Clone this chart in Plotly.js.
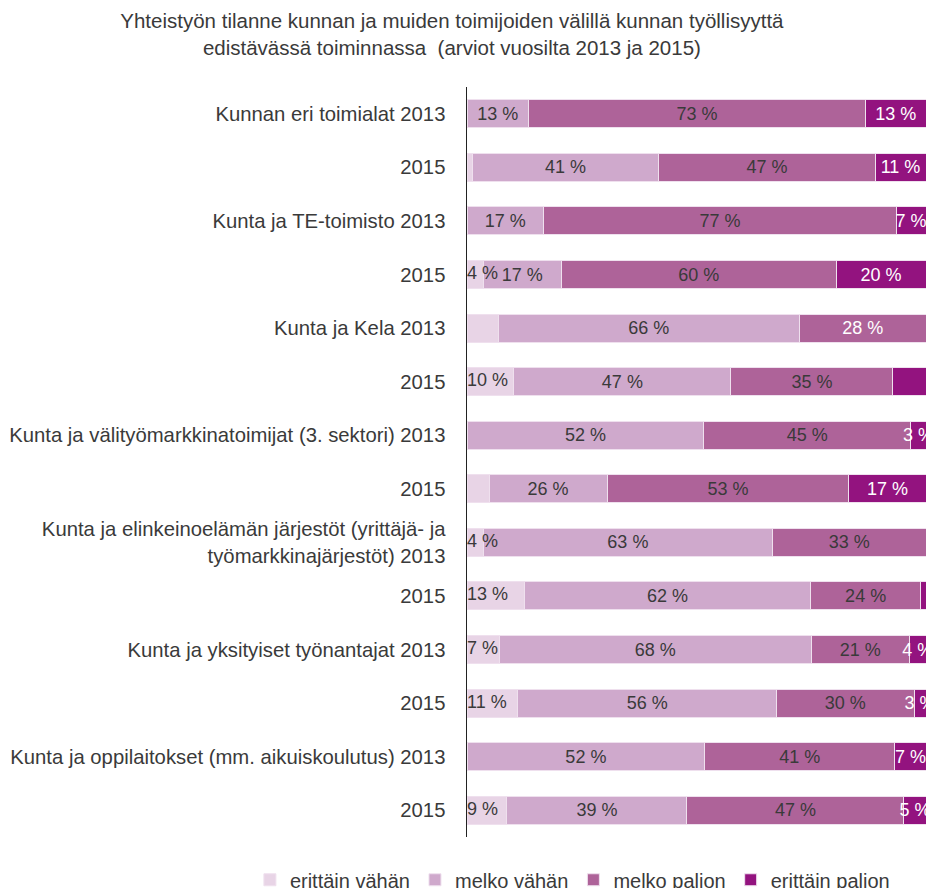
<!DOCTYPE html>
<html><head><meta charset="utf-8">
<script src="https://cdn.plot.ly/plotly-3.0.1.min.js"></script>
<style>html,body{margin:0;padding:0;background:#fff}#chart{width:926px;height:888px}</style>
</head><body><div id="chart"></div>
<script>
const rowLabels = [
  'Kunnan eri toimialat 2013', '2015',
  'Kunta ja TE-toimisto 2013', '2015',
  'Kunta ja Kela 2013', '2015',
  'Kunta ja välityömarkkinatoimijat (3. sektori) 2013', '2015',
  'Kunta ja elinkeinoelämän järjestöt (yrittäjä- ja<br>työmarkkinajärjestöt) 2013', '2015',
  'Kunta ja yksityiset työnantajat 2013', '2015',
  'Kunta ja oppilaitokset (mm. aikuiskoulutus) 2013', '2015'
];
const seriesNames = ['erittäin vähän', 'melko vähän', 'melko paljon', 'erittäin paljon'];

const erittainVahan  = [0, 1.1, 0, 3.5, 6.8, 10.2, 0, 4.8, 3.5, 12.6, 7.0, 11.1, 0, 8.7];
const melkoVahan     = [13.4, 40.7, 16.7, 17.1, 65.6, 47.3, 51.6, 25.7, 63.1, 62.2, 68.0, 56.3, 51.8, 39.2];
const melkoPaljon    = [73.4, 47.1, 76.8, 59.8, 27.6, 35.3, 45.1, 52.7, 33.4, 24.1, 21.4, 30.0, 41.4, 47.3];
const erittainPaljon = [13.2, 11.1, 6.5, 19.6, 0, 7.2, 3.3, 16.8, 0, 1.1, 3.6, 2.6, 6.8, 4.8];

const labelsEV = ['', '', '', '4 %', '', '10 %', '', '', '4 %', '13 %', '7 %', '11 %', '', '9 %'];
const labelsMV = ['13 %', '41 %', '17 %', '17 %', '66 %', '47 %', '52 %', '26 %', '63 %', '62 %', '68 %', '56 %', '52 %', '39 %'];
const labelsMP = ['73 %', '47 %', '77 %', '60 %', '28 %', '35 %', '45 %', '53 %', '33 %', '24 %', '21 %', '30 %', '41 %', '47 %'];
const labelsEP = ['13 %', '11 %', '7 %', '20 %', '', '', '3 %', '17 %', '', '', '4 %', '3 %', '7 %', '5 %'];

const colors = ['#e8d4e6', '#cfa9cc', '#ae6399', '#93137f'];
const dark = '#3a3a3a';
const light = '#ffffff';
const fontFamily = 'Liberation Sans, Arial, sans-serif';

const yPos = rowLabels.map((_, i) => i);
const values = [erittainVahan, melkoVahan, melkoPaljon, erittainPaljon];
// labels of the first series are drawn on top by a text trace (they overflow their segment)
const barLabels = [rowLabels.map(() => ''), labelsMV, labelsMP, labelsEP];
const textColors = [
  rowLabels.map(() => dark),
  rowLabels.map(() => dark),
  labelsMP.map((_, i) => (i === 4 ? light : dark)),
  rowLabels.map(() => light)
];

const traces = seriesNames.map((name, k) => ({
  type: 'bar',
  orientation: 'h',
  name: name,
  y: yPos,
  x: values[k],
  text: barLabels[k],
  textposition: 'inside',
  insidetextanchor: 'middle',
  textangle: 0,
  textfont: { size: 18, color: textColors[k], family: fontFamily },
  marker: { color: colors[k], line: { color: '#efe0ee', width: 1 } },
  hoverinfo: 'none'
}));

// first-series labels, anchored at the stack base, drawn above all bars
traces.push({
  type: 'scatter',
  mode: 'text',
  x: erittainVahan.map(() => 0),
  y: yPos,
  text: labelsEV,
  textposition: 'middle right',
  textfont: { size: 18, color: dark, family: fontFamily },
  marker: { size: 0 },
  showlegend: false,
  hoverinfo: 'none'
});

const layout = {
  width: 926, height: 888,
  margin: { l: 467, r: 0, t: 87, b: 51, pad: 0, autoexpand: false },
  barmode: 'stack',
  bargap: 0.477,
  paper_bgcolor: '#ffffff',
  plot_bgcolor: '#ffffff',
  font: { family: fontFamily, size: 20, color: dark },
  title: {
    text: 'Yhteistyön tilanne kunnan ja muiden toimijoiden välillä kunnan työllisyyttä<br>edistävässä toiminnassa \u00a0(arviot vuosilta 2013 ja 2015)',
    font: { size: 20.5, color: dark },
    x: 0.488, xref: 'container', xanchor: 'center',
    y: 0.9685, yref: 'container', yanchor: 'top'
  },
  xaxis: { range: [0, 100], visible: false, fixedrange: true },
  yaxis: {
    tickvals: yPos, ticktext: rowLabels,
    range: [13.5, -0.5],
    showline: true, linecolor: '#222222', linewidth: 1.5,
    showgrid: false, zeroline: false, ticks: '',
    ticklabelstandoff: 16,
    tickfont: { size: 20.3, color: dark }
  },
  legend: {
    orientation: 'h', traceorder: 'normal',
    x: -0.473, xref: 'paper', xanchor: 'left',
    y: -0.057, yanchor: 'middle',
    font: { size: 20, color: dark }
  },
  uniformtext: { mode: 'show', minsize: 18 },
  showlegend: true
};

Plotly.newPlot('chart', traces, layout, { staticPlot: true, displayModeBar: false });
</script>
</body></html>
